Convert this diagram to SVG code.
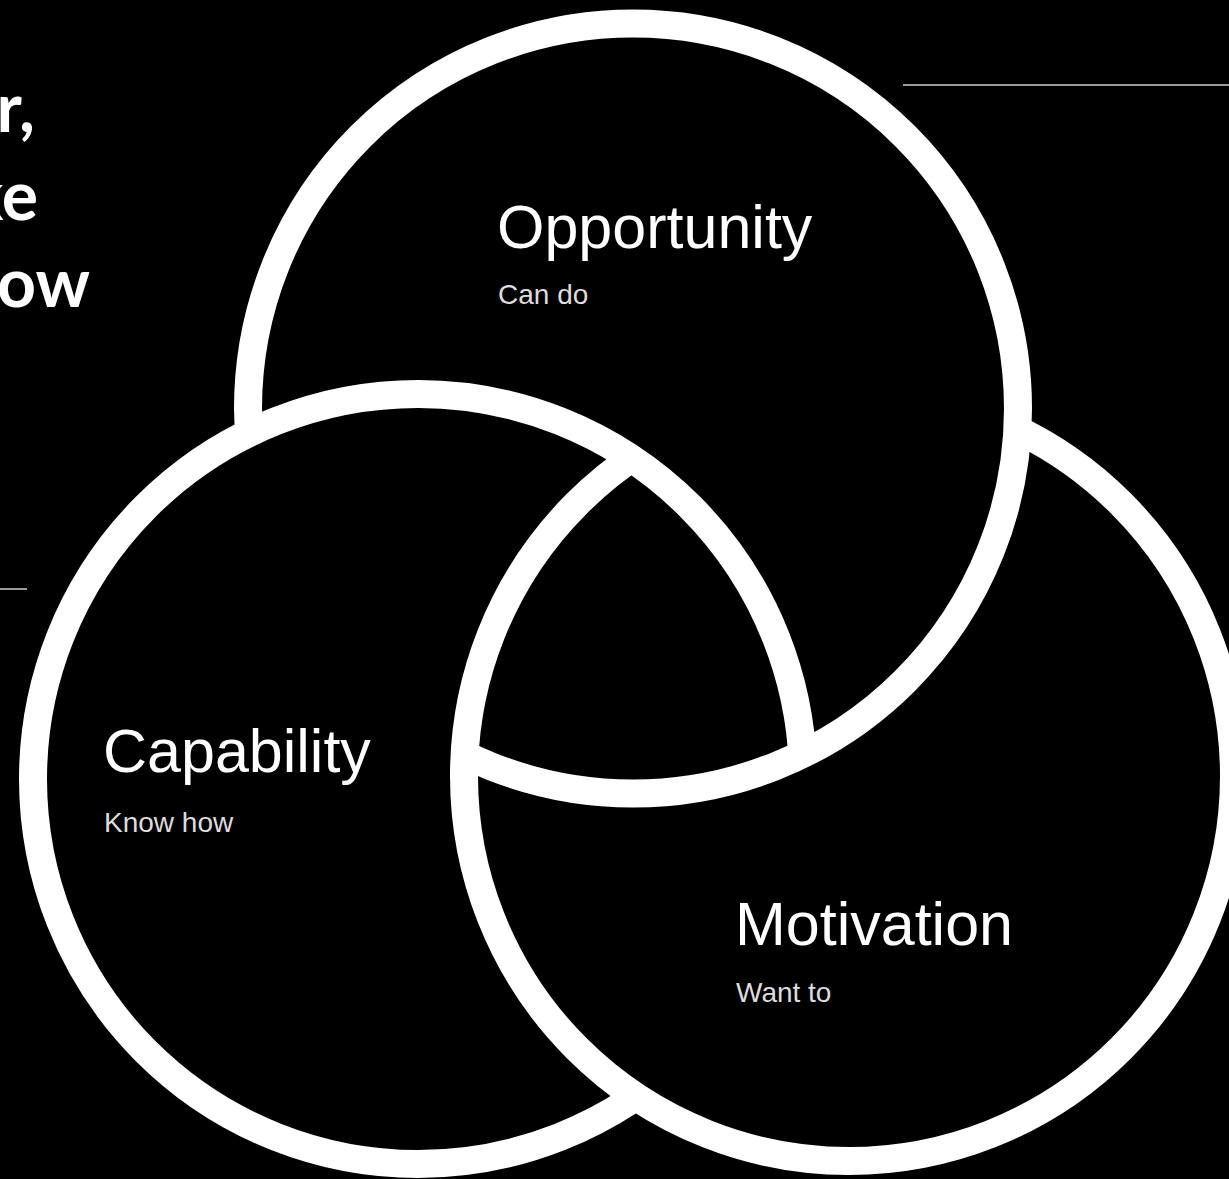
<svg xmlns="http://www.w3.org/2000/svg" width="1229" height="1179" viewBox="0 0 1229 1179">
<defs>
<style>
.ring{fill:none;stroke:#fff;stroke-width:28}
.title{font-family:"Liberation Sans",Arial,sans-serif;font-size:61px;fill:#fff}
.sub{font-family:"Liberation Sans",Arial,sans-serif;font-size:28px;fill:#dcdcdc}
.head{font-family:Lato,"Open Sans",sans-serif;font-weight:bold;font-size:68px;fill:#fff}
.rule{stroke:#9a9a9a;stroke-width:2}
</style>
<mask id="mO" maskUnits="userSpaceOnUse" x="0" y="0" width="1229" height="1179">
<rect width="1229" height="1179" fill="#fff"/>
<circle cx="418" cy="779" r="385" fill="#000"/>
<circle cx="849" cy="776" r="385" fill="#fff"/>
</mask>
<mask id="mC" maskUnits="userSpaceOnUse" x="0" y="0" width="1229" height="1179">
<rect width="1229" height="1179" fill="#fff"/>
<circle cx="849" cy="776" r="385" fill="#000"/>
<circle cx="633" cy="408.5" r="385" fill="#fff"/>
</mask>
<mask id="mM" maskUnits="userSpaceOnUse" x="0" y="0" width="1229" height="1179">
<rect width="1229" height="1179" fill="#fff"/>
<circle cx="633" cy="408.5" r="385" fill="#000"/>
<circle cx="418" cy="779" r="385" fill="#fff"/>
</mask>
</defs>
<rect width="1229" height="1179" fill="#000"/>
<g id="heading">
<text class="head" x="35" y="132" text-anchor="end">r,</text>
<text class="head" x="38" y="220" text-anchor="end">ke</text>
<text class="head" x="90" y="307" text-anchor="end">ow</text>
</g>
<g id="rules">
<line class="rule" x1="903" y1="85" x2="1229" y2="85"/>
<line class="rule" x1="0" y1="589" x2="27" y2="589"/>
</g>
<g id="opportunity">
<circle class="ring" cx="633" cy="408.5" r="385" mask="url(#mO)"/>
<text class="title" x="497" y="248">Opportunity</text>
<text class="sub" x="498" y="304">Can do</text>
</g>
<g id="capability">
<circle class="ring" cx="418" cy="779" r="385" mask="url(#mC)"/>
<text class="title" x="103" y="772">Capability</text>
<text class="sub" x="104" y="832">Know how</text>
</g>
<g id="motivation">
<circle class="ring" cx="849" cy="776" r="385" mask="url(#mM)"/>
<text class="title" x="735" y="945">Motivation</text>
<text class="sub" x="736" y="1002">Want to</text>
</g>
</svg>
